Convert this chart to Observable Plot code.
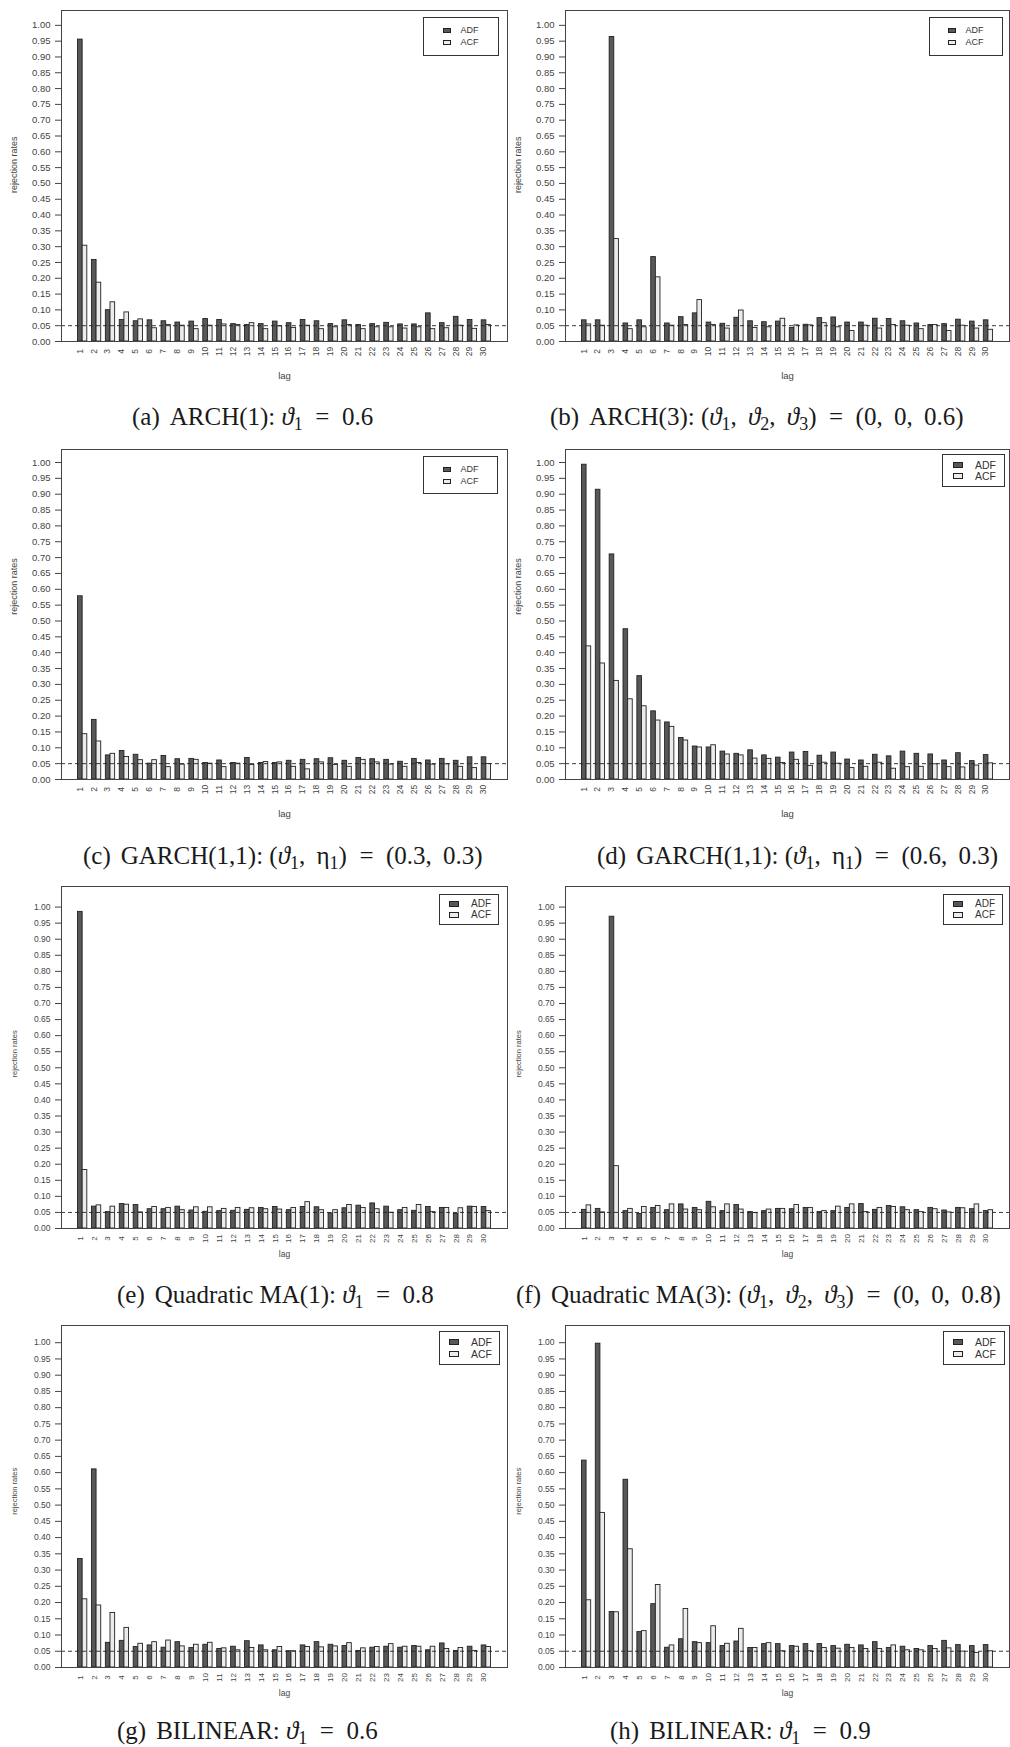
<!DOCTYPE html>
<html><head><meta charset="utf-8">
<script src="https://cdn.jsdelivr.net/npm/d3@7"></script>
<script src="https://cdn.jsdelivr.net/npm/@observablehq/plot@0.6"></script>
<style>
body{margin:0;background:#fff;}
#page{position:relative;width:1010px;height:1747px;overflow:hidden;background:#fff;}
.panel{position:absolute;}
.cap{position:absolute;font-family:"Liberation Serif","Times New Roman",serif;font-size:25px;line-height:1.1;white-space:nowrap;color:#1a1a1a;transform:translateY(-50%);}
.cap sub{font-size:0.72em;vertical-align:-0.25em;line-height:0;}
.cap .eq{margin:0 0.5em;}
.cap .th{display:inline-block;width:0.45em;}
.cap .sp{display:inline-block;width:0.4em;}
.legend{position:absolute;border:1px solid #333;background:#fff;font-family:"Liberation Sans",Arial,sans-serif;color:#333;box-sizing:border-box;display:flex;flex-direction:column;justify-content:center;}
.lr{display:flex;align-items:center;line-height:1;}
.sw{display:inline-block;border:1px solid #222;box-sizing:border-box;}
</style></head>
<body><div id="page"></div>
<script>
const lags = [1,2,3,4,5,6,7,8,9,10,11,12,13,14,15,16,17,18,19,20,21,22,23,24,25,26,27,28,29,30];
const series = ["ADF","ACF"];
const yTicks = [0.00,0.05,0.10,0.15,0.20,0.25,0.30,0.35,0.40,0.45,0.50,0.55,0.60,0.65,0.70,0.75,0.80,0.85,0.90,0.95,1.00];
const nominal = 0.05;

const adfA = [0.955,0.258,0.099,0.068,0.064,0.067,0.064,0.060,0.063,0.071,0.068,0.055,0.052,0.055,0.063,0.058,0.068,0.064,0.055,0.067,0.052,0.055,0.059,0.054,0.054,0.089,0.058,0.078,0.068,0.067];
const acfA = [0.303,0.186,0.124,0.092,0.070,0.042,0.052,0.050,0.039,0.050,0.054,0.052,0.058,0.039,0.048,0.043,0.050,0.039,0.045,0.052,0.039,0.045,0.045,0.041,0.045,0.039,0.042,0.050,0.040,0.052];
const adfB = [0.067,0.067,0.963,0.057,0.067,0.267,0.057,0.077,0.089,0.060,0.056,0.075,0.064,0.061,0.063,0.043,0.053,0.074,0.076,0.060,0.060,0.072,0.071,0.064,0.057,0.052,0.055,0.069,0.063,0.067];
const acfB = [0.054,0.050,0.324,0.039,0.045,0.203,0.050,0.052,0.131,0.052,0.041,0.098,0.043,0.045,0.072,0.051,0.051,0.058,0.045,0.033,0.050,0.041,0.052,0.050,0.039,0.052,0.033,0.050,0.041,0.037];
const adfC = [0.578,0.188,0.076,0.090,0.078,0.050,0.074,0.064,0.065,0.052,0.060,0.052,0.068,0.052,0.052,0.059,0.062,0.064,0.067,0.059,0.068,0.064,0.062,0.056,0.065,0.060,0.065,0.059,0.070,0.070];
const acfC = [0.143,0.120,0.081,0.071,0.061,0.061,0.039,0.047,0.062,0.050,0.039,0.050,0.046,0.055,0.054,0.040,0.032,0.054,0.046,0.040,0.062,0.054,0.047,0.040,0.052,0.047,0.048,0.040,0.036,0.049];
const adfD = [0.993,0.914,0.710,0.474,0.326,0.215,0.180,0.131,0.104,0.101,0.088,0.081,0.092,0.076,0.069,0.085,0.087,0.075,0.085,0.063,0.060,0.078,0.073,0.088,0.081,0.079,0.060,0.083,0.058,0.077];
const acfD = [0.420,0.366,0.311,0.253,0.231,0.186,0.166,0.123,0.101,0.108,0.079,0.076,0.066,0.065,0.052,0.062,0.043,0.053,0.050,0.036,0.040,0.053,0.034,0.039,0.040,0.048,0.039,0.038,0.044,0.051];
const adfE = [0.985,0.068,0.051,0.076,0.073,0.060,0.060,0.068,0.056,0.052,0.054,0.055,0.058,0.064,0.067,0.057,0.067,0.066,0.047,0.063,0.071,0.078,0.068,0.057,0.055,0.067,0.064,0.045,0.068,0.067];
const acfE = [0.182,0.072,0.068,0.074,0.050,0.067,0.064,0.057,0.066,0.066,0.061,0.064,0.063,0.060,0.059,0.064,0.082,0.057,0.057,0.073,0.064,0.060,0.049,0.064,0.073,0.051,0.064,0.063,0.067,0.054];
const adfF = [0.058,0.061,0.970,0.054,0.045,0.064,0.057,0.075,0.064,0.083,0.054,0.073,0.051,0.054,0.061,0.060,0.064,0.051,0.054,0.064,0.076,0.058,0.070,0.066,0.057,0.064,0.056,0.064,0.060,0.054];
const acfF = [0.072,0.050,0.194,0.061,0.067,0.070,0.075,0.059,0.057,0.066,0.075,0.059,0.048,0.059,0.061,0.073,0.064,0.054,0.068,0.075,0.051,0.064,0.067,0.057,0.051,0.060,0.050,0.063,0.075,0.057];
const adfG = [0.334,0.610,0.076,0.082,0.063,0.068,0.061,0.078,0.060,0.070,0.057,0.064,0.081,0.068,0.053,0.050,0.068,0.078,0.070,0.066,0.051,0.061,0.064,0.061,0.066,0.053,0.074,0.051,0.064,0.068];
const acfG = [0.210,0.191,0.168,0.122,0.073,0.078,0.083,0.065,0.070,0.076,0.059,0.053,0.060,0.053,0.063,0.050,0.063,0.062,0.065,0.075,0.059,0.063,0.072,0.064,0.064,0.064,0.057,0.060,0.051,0.063];
const adfH = [0.637,0.997,0.171,0.578,0.109,0.195,0.061,0.087,0.078,0.075,0.066,0.080,0.060,0.072,0.072,0.066,0.072,0.072,0.066,0.070,0.068,0.078,0.060,0.064,0.057,0.066,0.082,0.069,0.066,0.069];
const acfH = [0.207,0.476,0.170,0.364,0.112,0.254,0.068,0.180,0.075,0.127,0.073,0.119,0.060,0.075,0.050,0.064,0.050,0.060,0.058,0.060,0.057,0.057,0.068,0.053,0.053,0.057,0.059,0.049,0.045,0.050];

const T = "<i>ϑ</i>", E = '<span class="eq">=</span>', C = ',<span class="th"></span>', S = '<span class="sp"></span>';
const captions = [
  `(a)${S}ARCH(1): ${T}<sub>1</sub>${E}0.6`,
  `(b)${S}ARCH(3): (${T}<sub>1</sub>${C}${T}<sub>2</sub>${C}${T}<sub>3</sub>)${E}(0${C}0${C}0.6)`,
  `(c)${S}GARCH(1,1): (${T}<sub>1</sub>${C}η<sub>1</sub>)${E}(0.3${C}0.3)`,
  `(d)${S}GARCH(1,1): (${T}<sub>1</sub>${C}η<sub>1</sub>)${E}(0.6${C}0.3)`,
  `(e)${S}Quadratic MA(1): ${T}<sub>1</sub>${E}0.8`,
  `(f)${S}Quadratic MA(3): (${T}<sub>1</sub>${C}${T}<sub>2</sub>${C}${T}<sub>3</sub>)${E}(0${C}0${C}0.8)`,
  `(g)${S}BILINEAR: ${T}<sub>1</sub>${E}0.6`,
  `(h)${S}BILINEAR: ${T}<sub>1</sub>${E}0.9`
];

const fillColors = ["#585858", "#ececec"];

// layout of each panel (positions only)
const rowsGeom = [
  {top: 0,    height: 392, mt: 10, boxBottom: 341,  yTop: 1.047, fs: 9.5, xfs: 8.5, lfs: 9.5, yfs: 9,   lagDy: 37, ylabY: 0.47, capY: 417},
  {top: 440,  height: 392, mt: 9,  boxBottom: 779,  yTop: 1.041, fs: 9.5, xfs: 8.5, lfs: 9.5, yfs: 9,   lagDy: 37, ylabY: 0.52, capY: 856},
  {top: 877,  height: 392, mt: 9,  boxBottom: 1228, yTop: 1.064, fs: 8.5, xfs: 8,   lfs: 8.5, yfs: 7.5, lagDy: 28, ylabY: 0.47, capY: 1295},
  {top: 1316, height: 392, mt: 9,  boxBottom: 1667, yTop: 1.053, fs: 8.5, xfs: 8,   lfs: 8.5, yfs: 7.5, lagDy: 28, ylabY: 0.47, capY: 1731}
];
const colGeom = [
  {left: 0,   width: 510, ml: 61, mr: 3},
  {left: 505, width: 505, ml: 60, mr: 1}
];
const legendGeom = [
  {x: 423, y: 17,   w: 76, h: 39, fs: 9,    sw: 8,  pl: 19, gap: 3},
  {x: 929, y: 17,   w: 74, h: 39, fs: 9,    sw: 8,  pl: 18, gap: 3},
  {x: 423, y: 456,  w: 75, h: 38, fs: 9,    sw: 8,  pl: 19, gap: 3},
  {x: 942, y: 454,  w: 63, h: 33, fs: 10.5, sw: 10, pl: 10, gap: 1},
  {x: 439, y: 894,  w: 60, h: 31, fs: 10,   sw: 10, pl: 9,  gap: 1},
  {x: 943, y: 894,  w: 60, h: 31, fs: 10,   sw: 10, pl: 9,  gap: 1},
  {x: 439, y: 1331, w: 61, h: 34, fs: 10.5, sw: 10, pl: 9,  gap: 1},
  {x: 943, y: 1331, w: 62, h: 34, fs: 10.5, sw: 10, pl: 9,  gap: 1}
];
const capLeft = [132, 550, 83, 597, 117, 516, 117, 610];

const panels = [[adfA,acfA],[adfB,acfB],[adfC,acfC],[adfD,acfD],[adfE,acfE],[adfF,acfF],[adfG,acfG],[adfH,acfH]];

const page = document.getElementById("page");

panels.forEach(([adf, acf], p) => {
  const r = rowsGeom[Math.floor(p / 2)];
  const c = colGeom[p % 2];
  const mb = r.top + r.height - r.boxBottom;
  const rows = [];
  lags.forEach((l, i) => {
    const base = (l - 1) * 3 + 1;
    rows.push({lag: l, series: "ADF", x1: base, x2: base + 1, v: adf[i]});
    rows.push({lag: l, series: "ACF", x1: base + 1, x2: base + 2, v: acf[i]});
  });
  const chart = Plot.plot({
    width: c.width, height: r.height,
    marginTop: r.mt, marginBottom: mb, marginLeft: c.ml, marginRight: c.mr,
    style: {fontFamily: "'Liberation Sans', Arial, sans-serif", fontSize: r.fs + "px", color: "#444", background: "transparent", overflow: "visible"},
    x: {domain: [-2.56, 93.56], axis: null},
    y: {domain: [0, r.yTop], axis: null},
    color: {domain: series, range: fillColors},
    marks: [
      Plot.rect(rows, {x1: "x1", x2: "x2", y1: () => 0, y2: "v", fill: "series", stroke: "#222", strokeWidth: 0.9}),
      Plot.ruleY([nominal], {stroke: "#222", strokeWidth: 0.9, strokeDasharray: "4,3"}),
      Plot.frame({stroke: "#444", strokeWidth: 1}),
      Plot.axisY(yTicks, {tickFormat: d => d.toFixed(2), tickSize: 6, tickPadding: 5, stroke: "#444", label: null, fontSize: r.fs}),
      Plot.text(lags, {x: l => (l - 1) * 3 + 2, frameAnchor: "bottom", dy: 10, rotate: -90, text: l => String(l), fill: "#444", fontSize: r.xfs}),
      Plot.text(["lag"], {frameAnchor: "bottom", dy: r.lagDy, fill: "#444", fontSize: r.lfs}),
      Plot.text(["rejection rates"], {y: () => r.ylabY, frameAnchor: "left", dx: -47, rotate: -90, fill: "#444", fontSize: r.yfs})
    ]
  });
  const wrap = document.createElement("div");
  wrap.className = "panel";
  wrap.style.left = c.left + "px";
  wrap.style.top = r.top + "px";
  wrap.appendChild(chart);
  page.appendChild(wrap);

  const lg = legendGeom[p];
  const L = document.createElement("div");
  L.className = "legend";
  Object.assign(L.style, {left: lg.x + "px", top: lg.y + "px", width: lg.w + "px", height: lg.h + "px", fontSize: lg.fs + "px", paddingLeft: lg.pl + "px", gap: lg.gap + "px"});
  L.innerHTML = series.map((s, i) => `<div class="lr"><span class="sw" style="background:${fillColors[i]};width:${lg.sw}px;height:${Math.round(lg.sw * 0.6)}px;margin-right:${lg.sw * 1.2}px"></span><span>${s}</span></div>`).join("");
  page.appendChild(L);

  const cap = document.createElement("div");
  cap.className = "cap";
  cap.style.left = capLeft[p] + "px";
  cap.style.top = r.capY + "px";
  cap.innerHTML = captions[p];
  page.appendChild(cap);
});
</script>
</body></html>
